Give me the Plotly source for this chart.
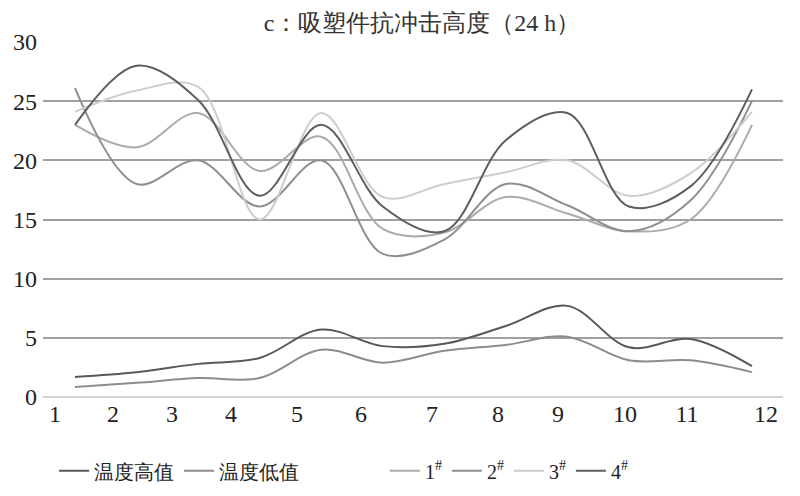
import plotly.graph_objects as go

# ---- data ----
sample_idx = list(range(1, 13))
x_tick_labels = [str(i) for i in range(1, 13)]

temp_high = [1.7, 2.1, 2.8, 3.3, 5.7, 4.3, 4.5, 6.0, 7.7, 4.2, 4.9, 2.6]
temp_low = [0.85, 1.2, 1.6, 1.6, 4.0, 2.9, 3.9, 4.4, 5.1, 3.1, 3.1, 2.1]
s1 = [23.0, 21.1, 24.0, 19.1, 22.0, 14.2, 13.9, 16.9, 15.5, 14.0, 15.0, 23.0]
s2 = [26.1, 18.0, 20.0, 16.1, 20.0, 12.1, 13.3, 18.0, 16.2, 14.0, 16.6, 25.0]
s3 = [24.1, 25.9, 26.2, 15.0, 24.0, 16.9, 18.0, 19.0, 20.0, 17.0, 18.9, 24.1]
s4 = [23.0, 28.0, 25.1, 17.0, 23.0, 16.1, 14.0, 21.7, 24.0, 16.1, 17.8, 26.0]

y_tick_vals = [0, 5, 10, 15, 20, 25, 30]

# ---- layout helpers (label placement along the axis, in sample units) ----
x_tick_pos = [0.675, 1.617, 2.576, 3.534, 4.607, 5.647, 6.80, 7.872, 8.847, 9.936, 10.943, 12.227]

series = [
    ("温度高值", temp_high, "#585858", "legend"),
    ("温度低值", temp_low, "#8c8c8c", "legend"),
    ("1<sup>#</sup>", s1, "#ababab", "legend2"),
    ("2<sup>#</sup>", s2, "#8f8f8f", "legend2"),
    ("3<sup>#</sup>", s3, "#cdcdcd", "legend2"),
    ("4<sup>#</sup>", s4, "#5e5e5e", "legend2"),
]

FONT = "Liberation Serif"

fig = go.Figure()
for name, vals, color, lg in series:
    fig.add_trace(go.Scatter(
        x=sample_idx, y=vals, name=name, mode="lines", legend=lg,
        line=dict(color=color, width=2, shape="spline", smoothing=1.0),
    ))

legend_common = dict(orientation="h", yanchor="middle", y=-0.208, xanchor="left",
                     font=dict(family=FONT, size=20, color="#222"),
                     itemwidth=30, bgcolor="rgba(0,0,0,0)")

fig.update_layout(
    width=800, height=496,
    margin=dict(l=35, r=25, t=34, b=107),
    paper_bgcolor="white", plot_bgcolor="white",
    font=dict(family=FONT, size=20, color="#222"),
    title=dict(text="c：吸塑件抗冲击高度（24 h）", x=0.5175, xanchor="center",
               y=0.971, yanchor="middle",
               font=dict(family=FONT, size=24, color="#333")),
    showlegend=True,
    legend=dict(x=0.015, **legend_common),
    legend2=dict(x=0.462, **legend_common),
    xaxis=dict(range=[0.48, 12.504], tickmode="array", tickvals=x_tick_pos,
               ticktext=x_tick_labels, showgrid=False, zeroline=False,
               showline=False, ticks="", automargin=False,
               tickfont=dict(family=FONT, size=24, color="#222")),
    yaxis=dict(range=[0, 30], tickmode="array", tickvals=y_tick_vals,
               showgrid=True, gridcolor="#a0a0a0", gridwidth=1.5,
               zeroline=True, zerolinecolor="#d2d2d2", zerolinewidth=1.5,
               showline=False, ticks="", automargin=False, ticklabelstandoff=5,
               tickfont=dict(family=FONT, size=24, color="#222")),
)

fig.write_html("out.html")
